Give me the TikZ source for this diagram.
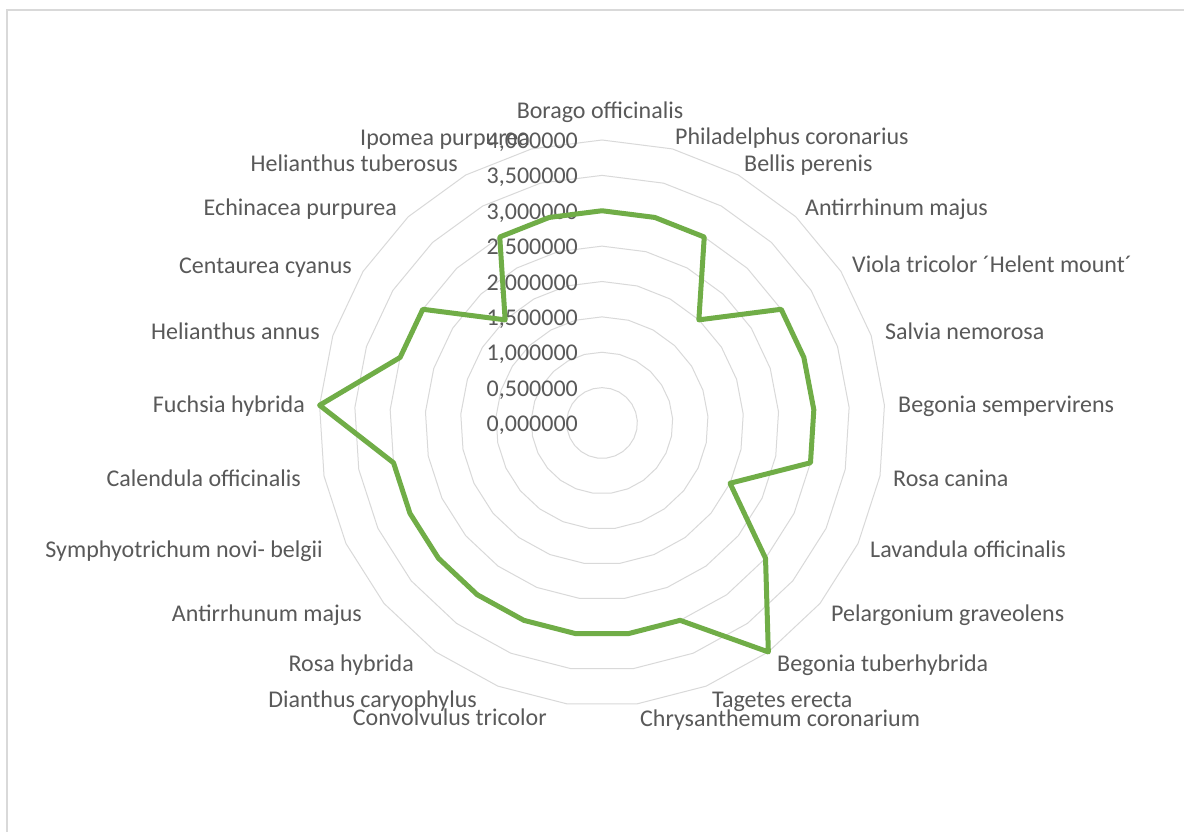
\documentclass[tikz,border=0pt]{standalone}
\usepackage{fontspec}
\setmainfont{Carlito}
\definecolor{gridgray}{HTML}{D9D9D9}
\definecolor{txtgray}{HTML}{595959}
\definecolor{linegreen}{HTML}{70AD47}
\begin{document}
\begin{tikzpicture}[x=1pt,y=-1pt,
  gridline/.style={draw=gridgray,line width=1pt},
  frameline/.style={draw=gridgray,line width=2pt},
  dataline/.style={draw=linegreen,line width=5pt,line join=round},
  lab/.style={text=txtgray,inner sep=0pt,font=\fontsize{24}{28}\selectfont,text height=0.7em,text depth=0.2em,yshift=-6pt},
  labr/.style={lab,anchor=west},
  labl/.style={lab,anchor=east}]
\useasboundingbox (0,0) rectangle (1184,832);
\fill[white] (0,0) rectangle (1184,832);
\draw[frameline] (7,10) rectangle (1200,850);
% grid rings
\foreach \k in {1,...,8}{
  \draw[gridline] (602,{423-35.375*\k}) \foreach \i in {1,...,24}{ -- ({602+35.375*\k*sin(14.4*\i)},{423-35.375*\k*cos(14.4*\i)}) } -- cycle;
}
% axis value labels
\foreach \k/\t in {0/0,1/0,2/1,3/1,4/2,5/2,6/3,7/3,8/4}{
  \pgfmathtruncatemacro{\half}{mod(\k,2)}
  \ifnum\half=1
    \node[labl] (ax\k) at (578,{423-35.375*\k}) {\t,500000};
  \else
    \node[labl] (ax\k) at (578,{423-35.375*\k}) {\t,000000};
  \fi
}
% category labels
\node[lab,anchor=center] (c0) at (600,110) {Borago officinalis};
\node[labr] (c1) at (675,136) {Philadelphus coronarius};
\node[labr] (c2) at (744,163) {Bellis perenis};
\node[labr] (c3) at (805,207) {Antirrhinum majus};
\node[labr] (c4) at (852,264) {Viola tricolor ´Helent mount´};
\node[labr] (c5) at (885,331) {Salvia nemorosa};
\node[labr] (c6) at (898,404) {Begonia sempervirens};
\node[labr] (c7) at (893,478) {Rosa canina};
\node[labr] (c8) at (870,549) {Lavandula officinalis};
\node[labr] (c9) at (831,613) {Pelargonium graveolens};
\node[labr] (c10) at (777,663) {Begonia tuberhybrida};
\node[labr] (c11) at (712,699) {Tagetes erecta};
\node[labr] (c12) at (640,718) {Chrysanthemum coronarium};
\node[labl] (c13) at (547,717) {Convolvulus tricolor};
\node[labl] (c14) at (477,699) {Dianthus caryophylus};
\node[labl] (c15) at (414,663) {Rosa hybrida};
\node[labl] (c16) at (362,613) {Antirrhunum majus};
\node[labl] (c17) at (323,549) {Symphyotrichum novi- belgii};
\node[labl] (c18) at (301,478) {Calendula officinalis};
\node[labl] (c19) at (305,404) {Fuchsia hybrida};
\node[labl] (c20) at (320,331) {Helianthus annus};
\node[labl] (c21) at (352,265) {Centaurea cyanus};
\node[labl] (c22) at (397,207) {Echinacea purpurea};
\node[labl] (c23) at (458,163) {Helianthus tuberosus};
\node[labr] (c24) at (360,137) {Ipomea purpurea};
% data
\foreach \v [count=\i from 0] in {3,3,3,2,3,3,3,3,2,3,4,3,3,3,3,3,3,3,3,4,3,3,2,3,3}{
  \coordinate (p\i) at ({602+70.75*\v*sin(14.4*\i)},{423-70.75*\v*cos(14.4*\i)});
}
\draw[dataline] (p0) \foreach \i in {1,...,24}{ -- (p\i) } -- cycle;
\end{tikzpicture}
\end{document}
